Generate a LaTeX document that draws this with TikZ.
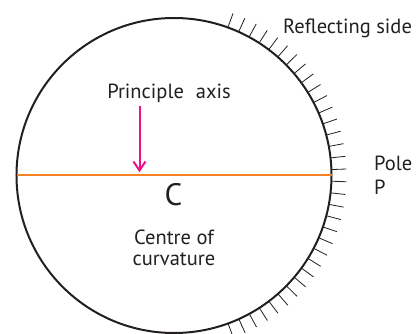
\documentclass[tikz,border=0pt]{standalone}
\usepackage{fontspec}
\usetikzlibrary{calc}
\setmainfont{PT Sans}
\definecolor{inkc}{HTML}{231F20}
\definecolor{axisc}{HTML}{F58220}
\definecolor{arrowc}{HTML}{EC108F}
\tikzset{
  lbl/.style={inner sep=0pt,text=inkc,font=\fontsize{20.5}{20.5}\selectfont,align=center},
  tick/.style={draw=inkc,line width=0.8pt}
}
\begin{document}
\begin{tikzpicture}[x=1pt,y=-1pt]
\useasboundingbox (0,0) rectangle (416,334);
\coordinate (c) at (174,175.5);
\foreach \i in {0,...,33}{
  \pgfmathsetmacro{\a}{-70+\i*4.24}
  \draw[tick] ($(c)+({157.5*cos(\a)},{157.5*sin(\a)})$) -- ($(c)+({172.5*cos(\a)},{172.5*sin(\a)})$);
}
\draw[draw=inkc,line width=2pt] (174,175.5) circle[radius=157.5pt];
\coordinate (l) at (16.5,175.5);
\coordinate (r) at (331.5,175.5);
\draw[draw=axisc,line width=2pt] (l) -- (r);
\coordinate (as) at (139.5,106);
\coordinate (ae) at (139.5,170.5);
\draw[draw=arrowc,line width=2pt] (as) -- (ae);
\draw[draw=arrowc,line width=2pt] (133.5,161.5) -- (ae) -- (145.5,161.5);
\node[lbl,anchor=west] (refl) at (283,28.5) {Reflecting side};
\node[lbl,anchor=west] (pole) at (374,163) {Pole};
\node[lbl,anchor=west] (p) at (374,187) {P};
\node[lbl] (pa) at (169,93) {Principle\hspace{12pt}axis};
\node[inner sep=0pt,text=inkc,font=\fontsize{31}{31}\selectfont] (cc) at (173.5,195) {C};
\node[lbl] (cen) at (174,248) {Centre of\\curvature};
\end{tikzpicture}
\end{document}
